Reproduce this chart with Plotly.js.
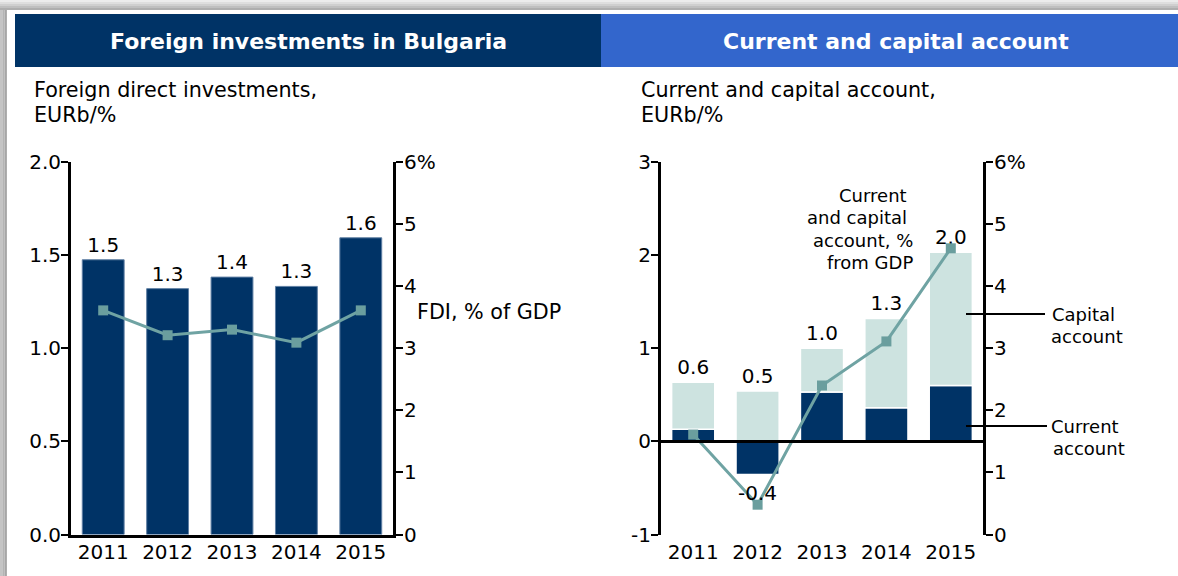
<!DOCTYPE html>
<html>
<head>
<meta charset="utf-8">
<script src="https://cdn.plot.ly/plotly-3.0.1.min.js"></script>
<style>
html,body{margin:0;padding:0;background:#fff;}
#chart{width:1178px;height:576px;}
</style>
</head>
<body>
<div id="chart"></div>
<script>
// ---------- DATA ----------
const years = ['2011', '2012', '2013', '2014', '2015'];

// Foreign direct investments, EURb
const fdiEurB = [1.475, 1.32, 1.382, 1.332, 1.593];
const fdiLabels = ['1.5', '1.3', '1.4', '1.3', '1.6'];
// FDI, % of GDP
const fdiPctGdp = [3.61, 3.21, 3.30, 3.09, 3.61];

// Current and capital account, EURb
const currentAccount = [0.13, -0.355, 0.53, 0.36, 0.60];
const capitalAccount = [0.505, 0.54, 0.47, 0.96, 1.43];
const totalLabels = ['0.6', '0.5', '1.0', '1.3', '2.0'];
const negativeLabels = ['', '-0.4', '', '', ''];
// Current and capital account, % from GDP
const ccaPctGdp = [1.61, 0.48, 2.40, 3.11, 4.61];

const pctTickVals = [0, 1, 2, 3, 4, 5, 6];
const pctTickText = ['0', '1', '2', '3', '4', '5', '6%'];
const fdiTickVals = [0, 0.5, 1, 1.5, 2];
const fdiTickText = ['0.0', '0.5', '1.0', '1.5', '2.0'];
const ccaTickVals = [-1, 0, 1, 2, 3];
const ccaTickText = ['-1', '0', '1', '2', '3'];

// ---------- STYLE ----------
const W = 1178, H = 576;
const px = x => x / W;
const py = y => 1 - y / H;
const NAVY = '#003366';
const BLUE = '#3366cc';
const TEAL = '#6fa3a3';
const TEAL_MK = '#6a9e9e';
const LIGHT = '#cde3e0';
const FONT = 'DejaVu Sans';

const axisCommon = {
  showgrid: false, zeroline: false, showline: true, linecolor: '#000', linewidth: 3,
  ticks: 'outside', ticklen: 7, tickwidth: 2, tickcolor: '#000',
  tickfont: {family: FONT, size: 20, color: '#000'}, fixedrange: true
};

const traces = [
  {
    type: 'bar', x: years, y: fdiEurB, xaxis: 'x', yaxis: 'y',
    width: 0.65, marker: {color: NAVY, line: {color: '#5f7fa3', width: 1}},
    text: fdiLabels, textposition: 'outside', cliponaxis: false,
    outsidetextfont: {family: FONT, size: 20, color: '#000'},
    hoverinfo: 'none'
  },
  {
    type: 'scatter', mode: 'lines+markers', x: years, y: fdiPctGdp, xaxis: 'x', yaxis: 'y2',
    line: {color: TEAL, width: 3},
    marker: {symbol: 'square', size: 10, color: TEAL_MK},
    cliponaxis: false, hoverinfo: 'none'
  },
  {
    type: 'bar', x: years, y: currentAccount, xaxis: 'x2', yaxis: 'y3',
    width: 0.67, marker: {color: NAVY, line: {color: '#fff', width: 1.5}},
    hoverinfo: 'none'
  },
  {
    type: 'bar', x: years, y: capitalAccount, xaxis: 'x2', yaxis: 'y3',
    width: 0.67, marker: {color: LIGHT, line: {color: '#fff', width: 1.5}},
    text: totalLabels, textposition: 'outside', cliponaxis: false,
    outsidetextfont: {family: FONT, size: 20, color: '#000'},
    hoverinfo: 'none'
  },
  {
    type: 'scatter', mode: 'lines+markers', x: years, y: ccaPctGdp, xaxis: 'x2', yaxis: 'y4',
    line: {color: TEAL, width: 3},
    marker: {symbol: 'square', size: 10, color: TEAL_MK},
    cliponaxis: false, hoverinfo: 'none'
  }
];

// Frame, headers and pointer lines
const shapes = [];
const topGrad = ['#ececec', '#dedede', '#cfcfcf', '#bfbfbf', '#aeaeae'];
topGrad.forEach((c, i) => shapes.push({type: 'rect', xref: 'paper', yref: 'paper',
  x0: 0, x1: 1, y0: py(i * 2 + 2), y1: py(i * 2), fillcolor: c, line: {width: 0}, layer: 'below'}));
const leftGrad = ['#c4c4c4', '#b4b4b4', '#a6a6a6'];
leftGrad.forEach((c, i) => shapes.push({type: 'rect', xref: 'paper', yref: 'paper',
  x0: px(i * 2.3), x1: px(i * 2.3 + 2.3), y0: 0, y1: py(10), fillcolor: c, line: {width: 0}, layer: 'below'}));
shapes.push({type: 'rect', xref: 'paper', yref: 'paper', x0: px(15), x1: px(601), y0: py(67), y1: py(14),
  fillcolor: NAVY, line: {width: 0}, layer: 'below'});
shapes.push({type: 'rect', xref: 'paper', yref: 'paper', x0: px(601), x1: 1, y0: py(67), y1: py(14),
  fillcolor: BLUE, line: {width: 0}, layer: 'below'});
shapes.push({type: 'line', xref: 'paper', yref: 'paper', x0: px(966), x1: px(1045), y0: py(314), y1: py(314),
  line: {color: '#000', width: 2}});
shapes.push({type: 'line', xref: 'paper', yref: 'paper', x0: px(966), x1: px(1047), y0: py(426), y1: py(426),
  line: {color: '#000', width: 2}});
// zero line of the right chart, drawn over the bars
shapes.push({type: 'line', xref: 'x2 domain', yref: 'y3', x0: 0, x1: 1, y0: 0, y1: 0,
  line: {color: '#000', width: 3}, layer: 'above'});

function ann(text, x, y, opts) {
  return Object.assign({xref: 'paper', yref: 'paper', x: px(x), y: py(y), text: text,
    showarrow: false, xanchor: 'left', yanchor: 'middle',
    font: {family: FONT, size: 20.7, color: '#000'}}, opts || {});
}
const f18 = {family: FONT, size: 18, color: '#000'};
const annotations = [
  ann('<b>Foreign investments in Bulgaria</b>', 308, 41.5, {xanchor: 'center', font: {family: FONT, size: 22, color: '#fff'}}),
  ann('<b>Current and capital account</b>', 896, 41.5, {xanchor: 'center', font: {family: FONT, size: 22, color: '#fff'}}),
  ann('Foreign direct investments,', 32, 90),
  ann('EURb/%', 32, 114.7),
  ann('Current and capital account,', 639, 90),
  ann('EURb/%', 639, 114.7),
  ann('FDI, % of GDP', 415, 312),
  ann('Current', 909, 195, {xanchor: 'right', font: f18}),
  ann('and capital', 909, 217.5, {xanchor: 'right', font: f18}),
  ann('account, %', 915, 240, {xanchor: 'right', font: f18}),
  ann('from GDP', 915, 262.5, {xanchor: 'right', font: f18}),
  ann('Capital', 1050, 314, {font: f18}),
  ann('account', 1049, 336.5, {font: f18}),
  ann('Current', 1049, 426, {font: f18}),
  ann('account', 1051, 448.5, {font: f18})
];
// label under the negative current-account bar (category axis: serial index)
years.forEach((yr, i) => {
  if (negativeLabels[i]) {
    annotations.push({xref: 'x2', yref: 'y3', x: i, y: currentAccount[i], text: negativeLabels[i],
      showarrow: false, xanchor: 'center', yanchor: 'top', yshift: -5,
      font: {family: FONT, size: 20, color: '#000'}});
  }
});

const yDom = [py(534.5), py(162)];

const layout = {
  width: W, height: H,
  margin: {l: 0, r: 0, t: 0, b: 0},
  paper_bgcolor: '#fff', plot_bgcolor: 'rgba(0,0,0,0)',
  showlegend: false,
  barmode: 'relative',
  font: {family: FONT, size: 20, color: '#000'},
  xaxis: Object.assign({}, axisCommon, {domain: [px(71), px(393)], anchor: 'y', type: 'category',
    ticks: '', range: [-0.5, 4.5], ticklabelstandoff: -3}),
  yaxis: Object.assign({}, axisCommon, {domain: yDom, anchor: 'x', range: [0, 2],
    tickvals: fdiTickVals, ticktext: fdiTickText, ticklabelstandoff: -4}),
  yaxis2: Object.assign({}, axisCommon, {overlaying: 'y', side: 'right', anchor: 'x', range: [0, 6],
    tickvals: pctTickVals, ticktext: pctTickText, ticklabelstandoff: -3}),
  xaxis2: Object.assign({}, axisCommon, {domain: [px(661), px(983)], anchor: 'y3', type: 'category',
    showline: false, ticks: '', range: [-0.5, 4.5], ticklabelstandoff: 3}),
  yaxis3: Object.assign({}, axisCommon, {domain: yDom, anchor: 'x2', range: [-1, 3],
    tickvals: ccaTickVals, ticktext: ccaTickText, ticklabelstandoff: -4}),
  yaxis4: Object.assign({}, axisCommon, {overlaying: 'y3', side: 'right', anchor: 'x2', range: [0, 6],
    tickvals: pctTickVals, ticktext: pctTickText, ticklabelstandoff: -3}),
  shapes: shapes,
  annotations: annotations
};

Plotly.newPlot('chart', traces, layout, {displayModeBar: false, staticPlot: true});
</script>
</body>
</html>
